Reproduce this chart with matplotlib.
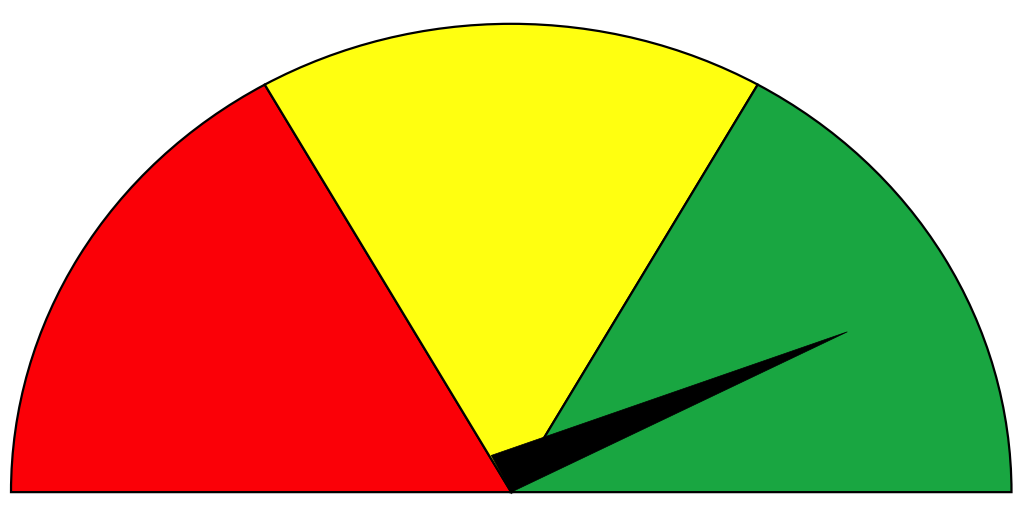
import numpy as np
import matplotlib
matplotlib.use("Agg")
import matplotlib.pyplot as plt
from matplotlib.patches import Wedge, Polygon

# gauge bands (value range 0-100) and needle value
band_edges = [0, 33.6, 66.4, 100]
band_colors = ['#fb0007', '#ffff10', '#19a641']
needle_value = 85
needle_length = 0.754
needle_base = 0.088


def value_to_angle(v):
    return 180.0 * (1 - v / 100.0)


fig = plt.figure(figsize=(10.26, 5.10), dpi=100)
ax = fig.add_axes([0, 0, 1, 1])

for lo, hi, col in zip(band_edges[:-1], band_edges[1:], band_colors):
    ax.add_patch(Wedge((0, 0), 1.0, value_to_angle(hi), value_to_angle(lo),
                       facecolor=col, edgecolor='black', linewidth=1.6))

a = np.radians(value_to_angle(needle_value))
tip = (needle_length * np.cos(a), needle_length * np.sin(a))
side = (needle_base * np.cos(a + np.pi / 2), needle_base * np.sin(a + np.pi / 2))
ax.add_patch(Polygon([(0, 0), side, tip], closed=True, facecolor='black',
                     edgecolor='black', linewidth=0.5))

ax.set_xlim(-1.022, 1.029)
ax.set_ylim(-0.036, 1.053)
ax.set_aspect('auto')
ax.axis('off')

fig.savefig('out.png', dpi=100)
plt.close(fig)
